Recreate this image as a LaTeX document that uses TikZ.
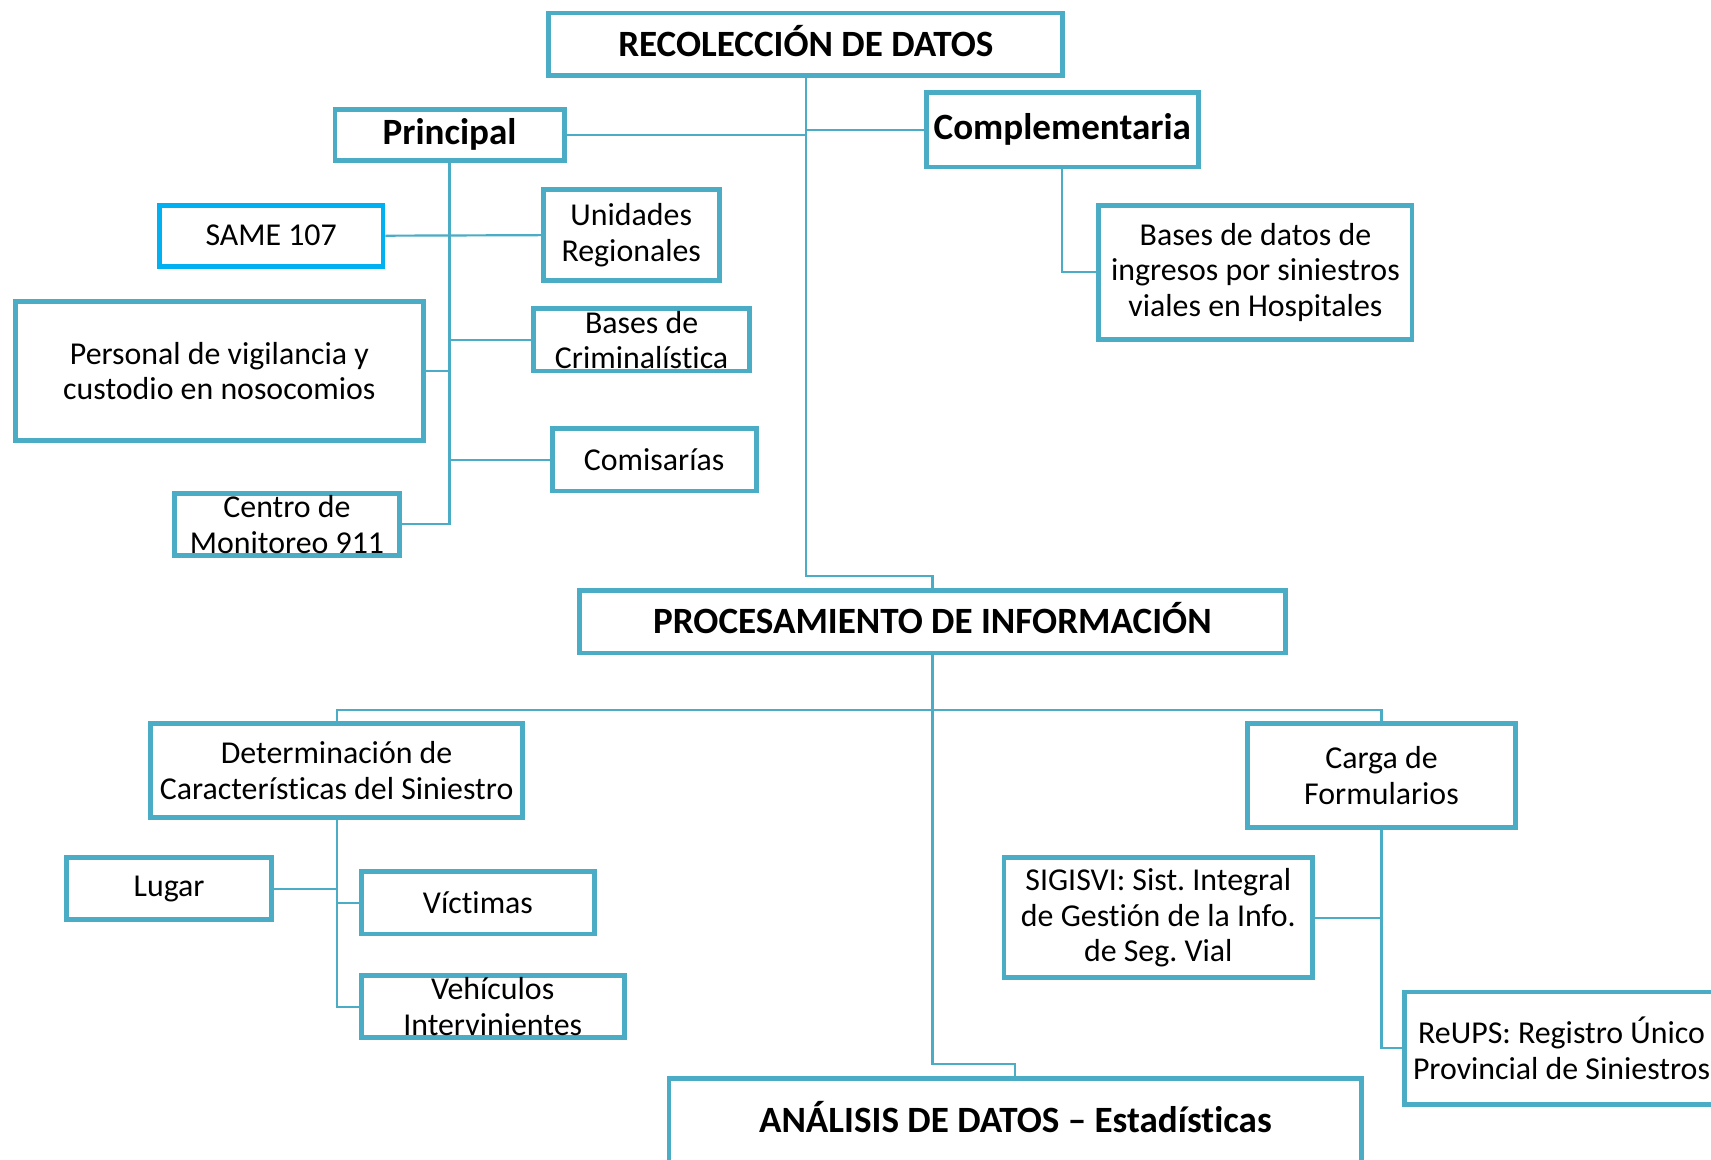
\documentclass[tikz,border=0pt]{standalone}
\usepackage{fontspec}
\setmainfont[Ligatures=NoCommon]{Carlito}
\frenchspacing
\definecolor{tealx}{HTML}{4BACC6}
\definecolor{cyanx}{HTML}{00B0F0}
\newcommand\fbody{\fontsize{14.6}{16.3}\selectfont}
\newcommand\ftitle{\fontsize{17}{19}\selectfont\bfseries}
\newcommand\fhead{\fontsize{17}{20}\selectfont\bfseries}
\tikzset{
  bx/.style 2 args={draw=tealx, line width=2.2pt, fill=white, inner sep=0pt, align=center, font=\fbody,
     minimum width=#1*0.5pt, minimum height=#2*0.5pt},
  ttl/.style={font=\ftitle, text height=13pt, text depth=2pt},
  conn/.style={draw=tealx, line width=1pt},
}
\begin{document}
\begin{tikzpicture}[x=0.5pt,y=-0.5pt]
\useasboundingbox (0,0) rectangle (1568,1063);
\clip (0,0) rectangle (1568,1063);
\fill[white] (0,0) rectangle (1568,1063);
% nodes
\node[bx={471}{57}, ttl] (rec) at (738.5,40.5) {RECOLECCIÓN DE DATOS};
\node[bx={210}{47}, font=\fhead] (prin) at (412,123.5) {Principal};
\node[bx={249}{68}, font=\fhead] (comp) at (973.5,119) {Complementaria};
\node[bx={205}{56}, draw=cyanx] (same) at (248.5,216) {SAME 107};
\node[bx={161}{83}] (unid) at (578.5,215.5) {Unidades\\Regionales};
\node[bx={374}{128}] (pers) at (201,340) {Personal de vigilancia y\\custodio en nosocomios};
\node[bx={198}{57}] (crim) at (588,311.5) {Bases de\\Criminalística};
\node[bx={187}{57}] (comi) at (599.5,421.5) {Comisarías};
\node[bx={206}{57}] (cent) at (263,480.5) {Centro de\\Monitoreo 911};
\node[bx={287}{123}] (hosp) at (1150.5,249.5) {Bases de datos de\\ingresos por siniestros\\viales en Hospitales};
\node[bx={647}{57}, ttl] (proc) at (854.5,570) {PROCESAMIENTO DE INFORMACIÓN};
\node[bx={341}{86}] (det) at (308.5,706) {Determinación de\\Características del Siniestro};
\node[bx={246}{95}] (carga) at (1266,710.5) {Carga de\\Formularios};
\node[bx={188}{57}] (lugar) at (155,814.5) {Lugar};
\node[bx={214}{57}] (vict) at (438,827.5) {Víctimas};
\node[bx={241}{57}] (vehi) at (451.5,922.5) {Vehículos\\Intervinientes};
\node[bx={283}{110}] (sig) at (1061.5,841) {SIGISVI: Sist. Integral\\de Gestión de la Info.\\de Seg. Vial};
\node[bx={288}{103}] (reups) at (1431,960.5) {ReUPS: Registro Único\\Provincial de Siniestros};
\node[bx={635}{78}, ttl] (anal) at (930.5,1027) {ANÁLISIS DE DATOS – Estadísticas};
% connectors
\coordinate (k1) at (738.5,528);
\draw[conn] (rec.south) -- (k1) -| (proc.north);
\draw[conn] (prin.east) -- (prin.east -| rec.south);
\draw[conn] (comp.west) -- (comp.west -| rec.south);
\draw[conn] (prin.south) |- (cent.east);
\draw[conn] (same.east) -- (unid.west);
\draw[conn] (pers.east) -- (pers.east -| prin.south);
\draw[conn] (crim.west) -- (crim.west -| prin.south);
\draw[conn] (comi.west) -- (comi.west -| prin.south);
\draw[conn] (comp.south) |- (hosp.west);
\coordinate (k2) at (854.5,975);
\draw[conn] (proc.south) -- (k2) -| (anal.north);
\coordinate (bus) at (854.5,651);
\draw[conn] (det.north) |- (bus) -| (carga.north);
\draw[conn] (det.south) |- (vehi.west);
\draw[conn] (lugar.east) -- (lugar.east -| det.south);
\draw[conn] (vict.west) -- (vict.west -| det.south);
\draw[conn] (carga.south) |- (reups.west);
\draw[conn] (sig.east) -- (sig.east -| carga.south);
\end{tikzpicture}
\end{document}
